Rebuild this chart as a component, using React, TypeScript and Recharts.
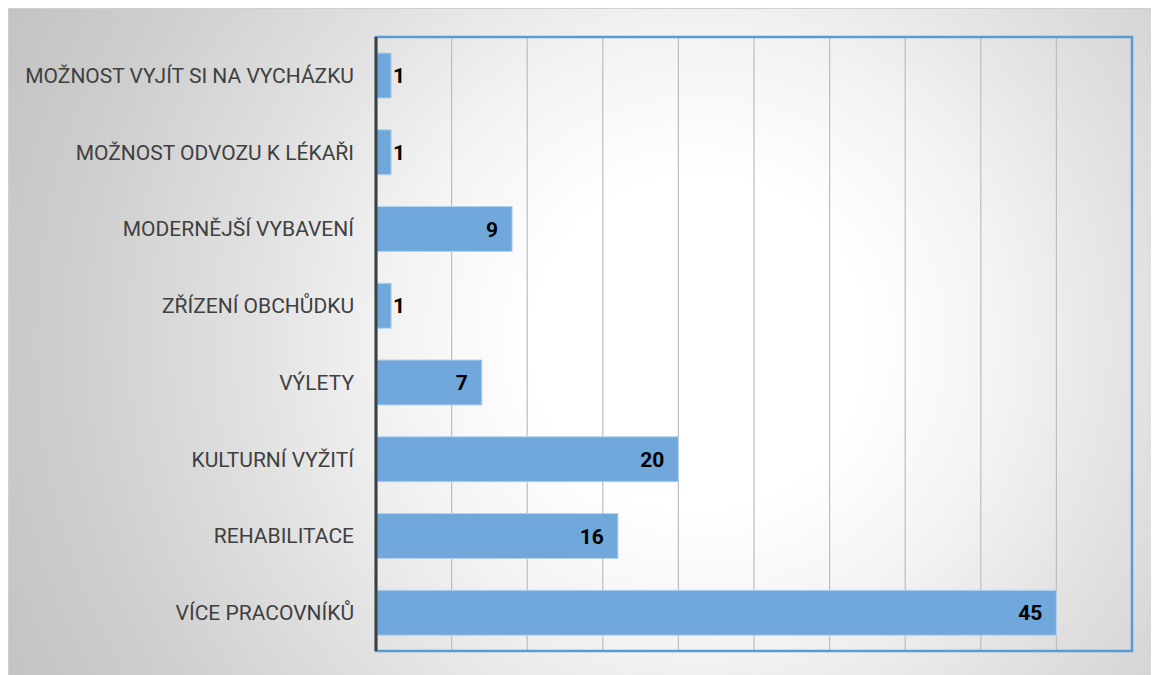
import { BarChart, Bar, XAxis, YAxis, CartesianGrid, LabelList, ReferenceArea } from "recharts"

const categories = [
  "MOŽNOST VYJÍT SI NA VYCHÁZKU",
  "MOŽNOST ODVOZU K LÉKAŘI",
  "MODERNĚJŠÍ VYBAVENÍ",
  "ZŘÍZENÍ OBCHŮDKU",
  "VÝLETY",
  "KULTURNÍ VYŽITÍ",
  "REHABILITACE",
  "VÍCE PRACOVNÍKŮ",
]
const counts = [1, 1, 9, 1, 7, 20, 16, 45]
const xTicks = [0, 5, 10, 15, 20, 25, 30, 35, 40, 45, 50]

const data = categories.map((name, i) => ({ name, value: counts[i] }))

const font = "Roboto, 'Noto Sans', sans-serif"

function ValueLabel(props: any) {
  const { x, y, width, height, value } = props
  const inside = width > 40
  return (
    <text
      x={inside ? x + width - 14 : x + width + 2}
      y={y + height / 2}
      dy="0.36em"
      textAnchor={inside ? "end" : "start"}
      fontFamily={font}
      fontWeight={700}
      fontSize={21}
      fill="#000"
    >
      {value}
    </text>
  )
}

export default function App() {
  return (
    <div
      style={{
        width: 1151,
        height: 667,
        borderTop: "1px solid #d0d0d0",
        borderLeft: "1px solid #d0d0d0",
        boxSizing: "border-box",
        background:
          "radial-gradient(circle at 60% 50%, #ffffff 0%, #ffffff 22%, #f3f3f3 40%, #e0e0e0 60%, #cecece 82%, #c3c3c3 100%)",
        overflow: "hidden",
      }}
    >
      <BarChart
        width={1150}
        height={666}
        data={data}
        layout="vertical"
        margin={{ top: 28, right: 27, bottom: 24, left: 0 }}
      >
        <CartesianGrid horizontal={false} vertical stroke="#bdbdbd" strokeWidth={1.2} />
        <XAxis type="number" domain={[0, 50]} ticks={xTicks} hide />
        <YAxis
          type="category"
          dataKey="name"
          width={367}
          axisLine={{ stroke: "#404040", strokeWidth: 3 }}
          tickLine={false}
          tickMargin={16}
          tick={{ fill: "#404040", fontSize: 21, fontFamily: font }}
        />
        <ReferenceArea x1={0} x2={50} fill="none" stroke="#5b9bd5" strokeWidth={2.5} ifOverflow="visible" />
        <Bar
          dataKey="value"
          fill="#70a8db"
          stroke="#b5d2ee"
          strokeWidth={1}
          barSize={45}
          isAnimationActive={false}
        >
          <LabelList dataKey="value" content={ValueLabel} />
        </Bar>
      </BarChart>
    </div>
  )
}
